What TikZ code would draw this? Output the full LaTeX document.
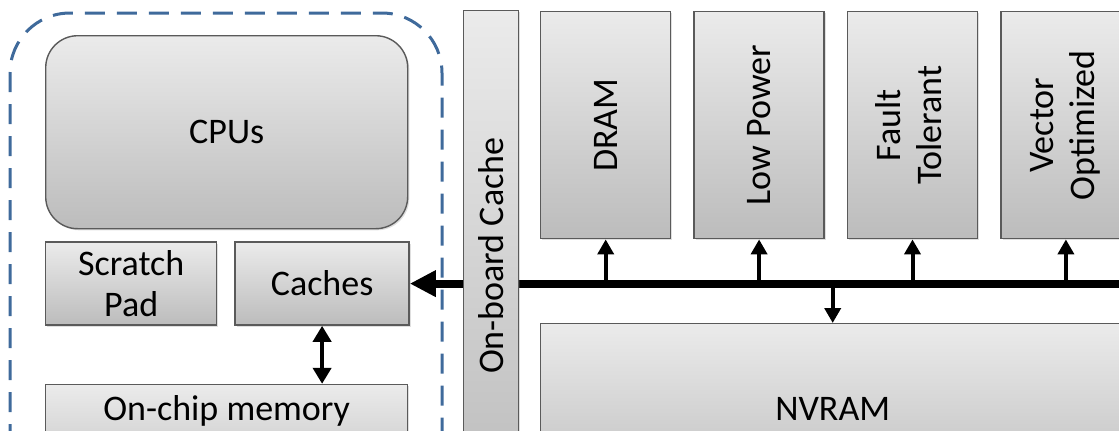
\documentclass[tikz,border=0pt]{standalone}
\usepackage{fontspec}
\setmainfont{Carlito}
\usetikzlibrary{positioning, arrows.meta, shadows}
\definecolor{framecol}{HTML}{3F6A9B}
\definecolor{edgecol}{HTML}{5A5A5A}
\definecolor{boxtop}{HTML}{EBEBEB}
\definecolor{boxbot}{HTML}{BCBCBC}

\begin{document}
\begin{tikzpicture}[x=0.5pt, y=-0.5pt, node distance=11pt,
  box/.style={draw=edgecol, line width=0.7pt, top color=boxtop, bottom color=boxbot,
    inner sep=0pt, align=center, font=\fontsize{18}{20.5}\selectfont,
    drop shadow={shadow xshift=0.8pt, shadow yshift=-0.8pt, opacity=0.25}},
  membox/.style={box, minimum width=65pt, minimum height=113.5pt, anchor=north west},
  up/.style={-{Triangle[length=7.5pt, width=8pt]}, line width=2pt},
  both/.style={{Triangle[length=8pt, width=9pt]}-{Triangle[length=8pt, width=9pt]}, line width=2pt}]
  \useasboundingbox (0,0) rectangle (1119,430);
  \clip (0,0) rectangle (1119,430);
  % chip
  \node[box, rounded corners=16pt, minimum width=181pt, minimum height=96.5pt, anchor=north west] (cpus) at (45,35) {CPUs};
  \node[box, minimum width=85.5pt, minimum height=41.5pt, below right=6pt and 0pt of cpus.south west] (scratch) {Scratch\\Pad};
  \node[box, minimum width=87pt, minimum height=41.5pt, right=8.5pt of scratch] (caches) {Caches};
  \node[box, minimum width=181pt, text height=17.75pt, text depth=40pt, below right=29pt and 0pt of scratch.south west] (onchip) {On-chip memory};
  % bus
  \coordinate[right=370pt of caches.east] (busend);
  \draw[line width=4pt, -{Triangle[length=13pt, width=12.5pt]}] (busend) -- (caches.east);
  \node[box, minimum width=27.5pt, minimum height=245pt, anchor=north west] (onboard) at (463,10) {\rotatebox{90}{On-board Cache}};
  % memories
  \node[membox] (dram) at (540,11) {\rotatebox{90}{DRAM}};
  \node[membox, right=of dram] (lowpower) {\rotatebox{90}{Low Power}};
  \node[membox, right=of lowpower] (fault) {\rotatebox{90}{\begin{tabular}{@{}c@{}}Fault\\Tolerant\end{tabular}}};
  \node[membox, right=of fault] (vector) {\rotatebox{90}{\begin{tabular}{@{}c@{}}Vector\\Optimized\end{tabular}}};
  \node[box, minimum width=292pt, text height=48.5pt, text depth=40pt, anchor=north west] (nvram) at (540,323) {NVRAM};
  \foreach \m in {dram, lowpower, fault, vector}
    \draw[up] (\m.south |- caches.east) -- (\m.south);
  \draw[up] (nvram.north |- caches.east) -- (nvram.north);
  \draw[both] (caches.south) -- (caches.south |- onchip.north);
  % chip boundary
  \draw[framecol, line width=1.5pt, dash pattern=on 10pt off 6pt, rounded corners=30pt]
    (10,540) -- (10,13) -- (442,13) -- (442,540);
\end{tikzpicture}
\end{document}
